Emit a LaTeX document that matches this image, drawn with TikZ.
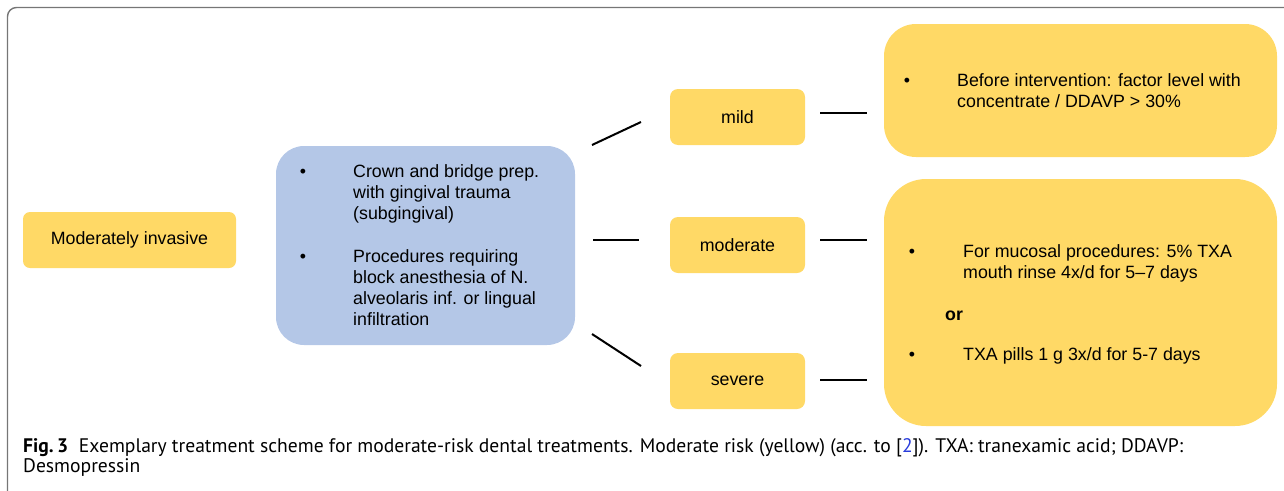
\documentclass[tikz,border=0pt]{standalone}
\usepackage{fontspec}
\setmainfont{Liberation Sans}
\newfontfamily\capfont{PT Sans}
\definecolor{boxyellow}{RGB}{255,217,102}
\definecolor{boxblue}{RGB}{180,199,231}
\definecolor{framegray}{RGB}{118,118,118}
\definecolor{reflink}{RGB}{40,60,220}
\tikzset{
  ybox/.style={fill=boxyellow, draw=none, inner sep=0pt},
  bbox/.style={fill=boxblue, draw=none, inner sep=0pt},
  body/.style={font=\fontsize{17.8}{21}\selectfont, inner sep=0pt, align=left},
  bul/.style={font=\fontsize{17.8}{21}\selectfont, inner sep=0pt, anchor=base},
  link/.style={line width=2pt, black},
  captxt/.style={anchor=base west, inner sep=0pt, font=\capfont\fontsize{19.6}{20}\selectfont},
}
\begin{document}
\begin{tikzpicture}[x=1pt, y=-1pt]
\useasboundingbox (0,0) rectangle (1284,490);
% outer frame, open to the right and bottom
\draw[framegray, line width=1.4pt, rounded corners=9pt] (7.5,495) -- (7.5,7.5) -- (1290,7.5);

% boxes
\node[ybox, rounded corners=7pt, minimum width=213pt, minimum height=56pt,
      font=\fontsize{17.8}{21}\selectfont] (inv) at (129.5,240) {Moderately invasive};
\node[bbox, rounded corners=28pt, minimum width=299pt, minimum height=199pt] (proc) at (425.5,245.5) {};
\node[ybox, rounded corners=8pt, minimum width=135pt, minimum height=56pt,
      font=\fontsize{17.8}{21}\selectfont] (mild) at (737.5,117) {mild};
\node[ybox, rounded corners=8pt, minimum width=135pt, minimum height=56pt,
      font=\fontsize{17.8}{21}\selectfont] (moderate) at (737.5,245) {moderate};
\node[ybox, rounded corners=8pt, minimum width=135pt, minimum height=56pt,
      font=\fontsize{17.8}{21}\selectfont] (severe) at (737.5,381) {severe};
\node[ybox, rounded corners=32pt, minimum width=393pt, minimum height=133pt] (tmild) at (1080.5,90.5) {};
\node[ybox, rounded corners=42pt, minimum width=393pt, minimum height=247pt] (tmod) at (1080.5,302.5) {};

% procedures (multi-line nodes sit on the baseline of their last line)
\node[bul] (pb1) at (303,177.5) {•};
\node[body, anchor=base west] (p1) at (353,219.5) {Crown and bridge prep.\\with gingival trauma\\(subgingival)};
\node[bul] (pb2) at (303,262.5) {•};
\node[body, anchor=base west] (p2) at (353,325.5) {Procedures requiring\\block anesthesia of N.\\alveolaris inf. or lingual\\infiltration};

% treatments
\node[bul] (tb1) at (907,86.5) {•};
\node[body, anchor=base west] (t1) at (957,107.5) {Before intervention: factor level with\\concentrate / DDAVP > 30\%};
\node[bul] (tb2) at (912,257.5) {•};
\node[body, anchor=base west] (t2) at (963,278.5) {For mucosal procedures: 5\% TXA\\mouth rinse 4x/d for 5--7 days};
\node[body, anchor=base west, font=\fontsize{17.8}{21}\selectfont\bfseries] (tor) at (945,320.5) {or};
\node[bul] (tb3) at (912,360.5) {•};
\node[body, anchor=base west] (t3) at (963,360.5) {TXA pills 1 g 3x/d for 5-7 days};

% connector end points
\coordinate (a1) at (592,145); \coordinate (a2) at (641,122);
\coordinate (b1) at (593,240); \coordinate (b2) at (639,240);
\coordinate (c1) at (592,334); \coordinate (c2) at (641,366);
\coordinate (m1) at (820,113); \coordinate (m2) at (867,113);
\coordinate (n1) at (820,240); \coordinate (n2) at (867,240);
\coordinate (s1) at (820,380); \coordinate (s2) at (867,380);
\draw[link] (a1) -- (a2);
\draw[link] (b1) -- (b2);
\draw[link] (c1) -- (c2);
\draw[link] (m1) -- (m2);
\draw[link] (n1) -- (n2);
\draw[link] (s1) -- (s2);

% caption
\node[captxt] (cap1) at (23,452)
  {\textbf{Fig.\,3}\hspace{0.55em}Exemplary treatment scheme for moderate-risk dental treatments. Moderate risk (yellow) (acc. to [\textcolor{reflink}{2}]). TXA: tranexamic acid; DDAVP:};
\node[captxt] (cap2) at (23,472) {Desmopressin};
\end{tikzpicture}
\end{document}
